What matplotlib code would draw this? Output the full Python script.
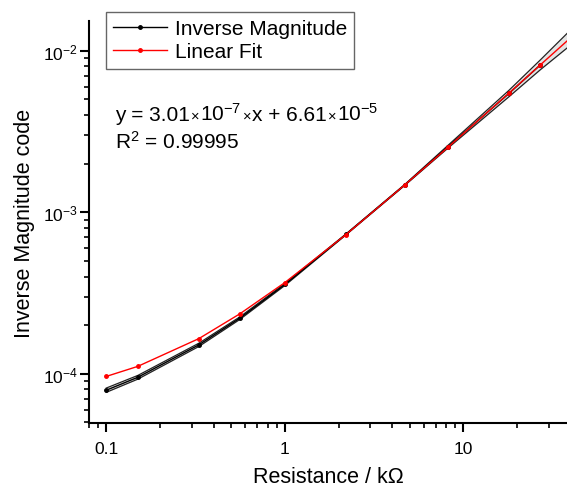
import matplotlib
matplotlib.use("Agg")
import matplotlib.pyplot as plt
from matplotlib.ticker import LogLocator, NullFormatter, FixedLocator, FixedFormatter

plt.rcParams['font.family'] = ['Liberation Sans', 'DejaVu Sans']
plt.rcParams['mathtext.fontset'] = 'custom'
plt.rcParams['mathtext.rm'] = 'Liberation Sans'
plt.rcParams['mathtext.it'] = 'Liberation Sans:italic'

# Data (resistance in kOhm)
resistance = [0.1, 0.15, 0.33, 0.56, 1.0, 2.2, 4.7, 8.2, 18, 27]
inv_mag = [7.9e-5, 9.5e-5, 1.51e-4, 2.21e-4, 3.57e-4, 7.3e-4, 1.48e-3, 2.55e-3, 5.45e-3, 8.2e-3]

# Linear fit (values at resistances, line extends to right edge)
fit_x = [0.1, 0.15, 0.33, 0.56, 1.0, 2.2, 4.7, 8.2, 18, 27, 38]
fit_y = [9.62e-5, 1.11e-4, 1.65e-4, 2.35e-4, 3.67e-4, 7.28e-4, 1.48e-3, 2.53e-3, 5.48e-3, 8.2e-3, 1.15e-2]

# Band around the data
band_x = [0.1, 0.15, 0.33, 0.56, 1.0, 2.2, 4.7, 8.2, 18, 27, 38]
band_upper = [8.15e-5, 9.75e-5, 1.545e-4, 2.25e-4, 3.62e-4, 7.35e-4, 1.49e-3, 2.6e-3, 5.7e-3, 8.8e-3, 1.28e-2]
band_lower = [7.67e-5, 9.25e-5, 1.475e-4, 2.17e-4, 3.52e-4, 7.25e-4, 1.47e-3, 2.5e-3, 5.2e-3, 7.65e-3, 1.04e-2]

x_ticks = [0.1, 1, 10]
x_tick_labels = ["0.1", "1", "10"]
y_ticks = [1e-4, 1e-3, 1e-2]
y_tick_labels = [r"10$^{-4}$", r"10$^{-3}$", r"10$^{-2}$"]

# Equation pieces: (text, fontsize)
eq_pieces = [("y = 3.01", 15), ("\u00d7", 10.5), ("10$^{-7}$", 15), ("\u00d7", 10.5),
             ("x + 6.61", 15), ("\u00d7", 10.5), ("10$^{-5}$", 15)]
r2_text = r"R$^{2}$ = 0.99995"

fig = plt.figure(figsize=(5.67, 4.89), dpi=100)
ax = fig.add_axes([89/567, 1-424/489, 1-89/567, (424-22)/489])

ax.fill_between(band_x, band_lower, band_upper, color='#e4e4e4', lw=0, zorder=1)
ax.plot(band_x, band_upper, color='#222222', lw=0.9, zorder=2)
ax.plot(band_x, band_lower, color='#222222', lw=0.9, zorder=2)
ax.plot(resistance, inv_mag, color='black', lw=1.0, marker='o', ms=2.5,
        label='Inverse Magnitude', zorder=3)
ax.plot(fit_x, fit_y, color='red', lw=1.0, marker='o', ms=2.5,
        markevery=list(range(len(fit_x) - 1)), label='Linear Fit', zorder=4)

ax.set_xscale('log')
ax.set_yscale('log')
ax.set_xlim(0.08, 38)
ax.set_ylim(4.95e-5, 1.53e-2)

ax.xaxis.set_major_locator(FixedLocator(x_ticks))
ax.xaxis.set_major_formatter(FixedFormatter(x_tick_labels))
ax.yaxis.set_major_locator(FixedLocator(y_ticks))
ax.yaxis.set_major_formatter(FixedFormatter(y_tick_labels))
ax.xaxis.set_minor_locator(LogLocator(base=10, subs=range(2, 10)))
ax.yaxis.set_minor_locator(LogLocator(base=10, subs=range(2, 10)))
ax.xaxis.set_minor_formatter(NullFormatter())
ax.yaxis.set_minor_formatter(NullFormatter())

for s in ['top', 'right']:
    ax.spines[s].set_visible(False)
for s in ['left', 'bottom']:
    ax.spines[s].set_linewidth(1.5)
ax.tick_params(which='major', direction='out', length=6.5, width=1.5, labelsize=12.5)
ax.tick_params(axis='x', which='major', pad=6.5)
ax.tick_params(axis='y', which='major', pad=1.5)
ax.tick_params(which='minor', direction='out', length=3.5, width=1.2)

ax.set_xlabel('Resistance / k\u03a9', fontsize=15.5, labelpad=7)
ax.set_ylabel('Inverse Magnitude code', fontsize=15.5, labelpad=6)

leg = ax.legend(loc='upper left', bbox_to_anchor=(106/567, 1-13/489), bbox_transform=fig.transFigure,
                fontsize=15, frameon=True, fancybox=False, edgecolor='#404040',
                borderpad=0.35, labelspacing=0.2, handlelength=2.6, handletextpad=0.35,
                borderaxespad=0)
leg.get_frame().set_linewidth(1.0)

# Equation built from pieces placed one after another on a common baseline
renderer = fig.canvas.get_renderer()
x_px = 115.0
base_px = 489 - 121.0
for txt, fs in eq_pieces:
    t = fig.text(x_px / 567, base_px / 489, txt, fontsize=fs, va='baseline', ha='left')
    bb = t.get_window_extent(renderer=renderer)
    x_px = bb.x1 + 1.0
fig.text(115 / 567, (489 - 149.0) / 489, r2_text, fontsize=15, va='baseline', ha='left')

fig.savefig('out.png', dpi=100)
